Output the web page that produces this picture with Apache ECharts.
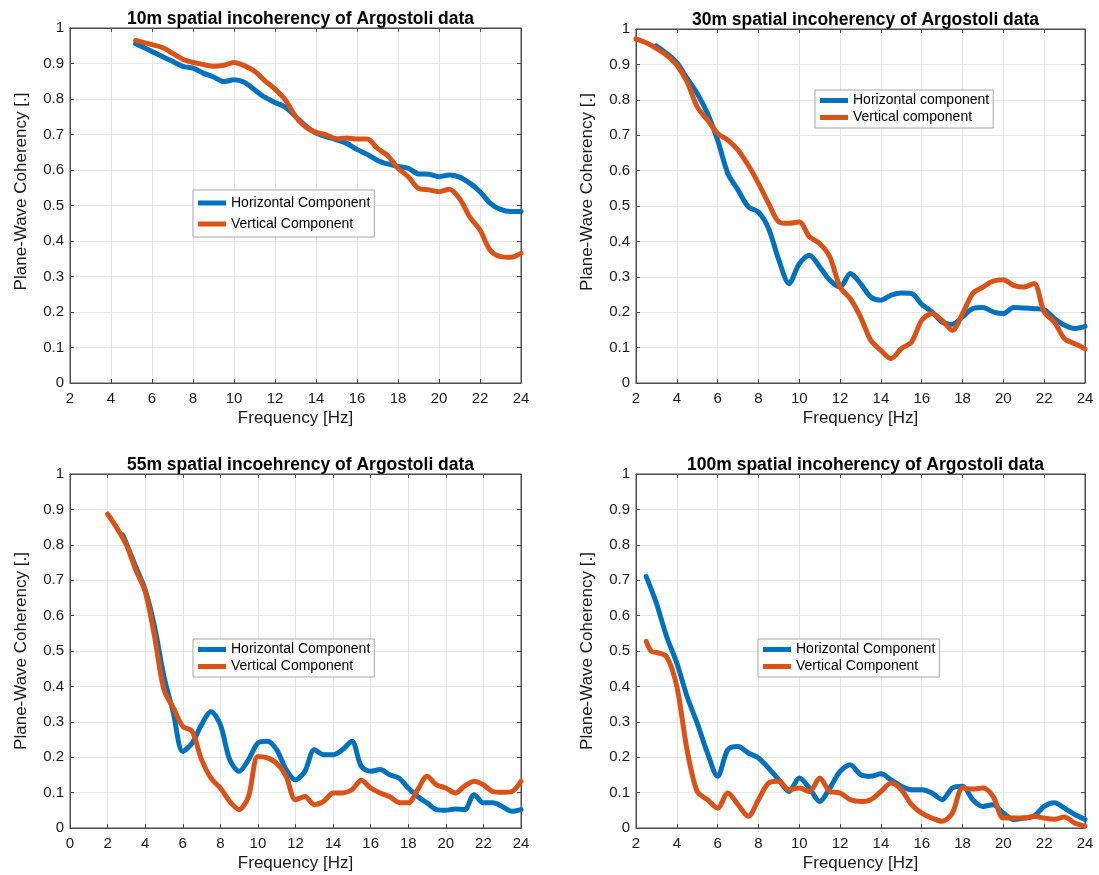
<!DOCTYPE html>
<html>
<head>
<meta charset="utf-8">
<script src="https://cdn.jsdelivr.net/npm/echarts@6/dist/echarts.min.js"></script>
<style>
html,body{margin:0;padding:0;background:#fff;}
#chart{width:1099px;height:875px;}
</style>
</head>
<body>
<div id="chart"></div>
<script>
// ---------- DATA ----------
const titles = [
  '10m spatial incoherency of Argostoli data',
  '30m spatial incoherency of Argostoli data',
  '55m spatial incoehrency of Argostoli data',
  '100m spatial incoherency of Argostoli data'
];
const legendNames = [
  ['Horizontal Component', 'Vertical Component'],
  ['Horizontal component', 'Vertical component'],
  ['Horizontal Component', 'Vertical Component'],
  ['Horizontal Component', 'Vertical Component']
];
const xMins = [2, 2, 0, 2];
const xMax = 24;
const xTickStep = 2;
const yTickStep = 0.1;

// Panel 1 (10 m)
const f10 = [5.2,6,6.5,7,7.5,8,8.5,9,9.5,10,10.5,11,11.5,12,12.5,13,13.5,14,14.5,15,15.5,16,16.5,17,17.5,18,18.5,19,19.5,20,20.5,21,21.5,22,22.5,23,23.5,24];
const h10 = [0.956,0.934,0.920,0.906,0.892,0.887,0.873,0.862,0.849,0.854,0.847,0.826,0.805,0.790,0.777,0.751,0.724,0.704,0.694,0.685,0.675,0.658,0.644,0.627,0.617,0.610,0.605,0.589,0.588,0.581,0.586,0.580,0.563,0.539,0.506,0.489,0.483,0.483];
const v10 = [0.965,0.953,0.945,0.929,0.912,0.903,0.897,0.892,0.895,0.903,0.894,0.878,0.852,0.828,0.798,0.751,0.721,0.706,0.699,0.688,0.690,0.687,0.687,0.661,0.640,0.605,0.581,0.548,0.544,0.539,0.546,0.520,0.468,0.431,0.374,0.356,0.354,0.365];

// Panel 2 (30 m)
const f30h = [3,3.5,4,4.5,5,5.5,6,6.5,7,7.5,8,8.5,9,9.5,10,10.5,11,11.5,12,12.5,13,13.5,14,14.5,15,15.5,16,16.5,17,17.5,18,18.5,19,19.5,20,20.5,21,21.5,22,22.5,23,23.5,24];
const h30 = [0.952,0.931,0.905,0.861,0.818,0.762,0.686,0.592,0.545,0.498,0.483,0.436,0.347,0.281,0.337,0.361,0.328,0.290,0.271,0.309,0.281,0.243,0.234,0.248,0.254,0.253,0.222,0.201,0.172,0.166,0.187,0.210,0.213,0.201,0.196,0.213,0.212,0.210,0.207,0.182,0.163,0.154,0.160];
const f30v = [2,2.5,3,3.5,4,4.5,5,5.5,6,6.5,7,7.5,8,8.5,9,9.5,10,10.5,11,11.5,12,12.5,13,13.5,14,14.5,15,15.5,16,16.5,17,17.5,18,18.5,19,19.5,20,20.5,21,21.5,22,22.5,23,23.5,24];
const v30 = [0.972,0.961,0.945,0.926,0.898,0.851,0.780,0.743,0.705,0.686,0.658,0.615,0.564,0.507,0.455,0.451,0.455,0.413,0.394,0.356,0.271,0.238,0.187,0.121,0.092,0.069,0.097,0.116,0.177,0.196,0.177,0.149,0.196,0.253,0.271,0.288,0.292,0.276,0.271,0.281,0.201,0.172,0.125,0.111,0.097];

// Panel 3 (55 m)
const f55h = [2.8,3,3.5,4,4.5,5,5.5,6,6.5,7,7.5,8,8.5,9,9.5,10,10.5,11,11.5,12,12.5,13,13.5,14,14.5,15,15.5,16,16.5,17,17.5,18,18.5,19,19.5,20,20.5,21,21.5,22,22.5,23,23.5,24];
const h55 = [0.828,0.804,0.738,0.673,0.569,0.428,0.325,0.216,0.240,0.292,0.329,0.292,0.193,0.160,0.193,0.240,0.245,0.221,0.165,0.136,0.160,0.221,0.207,0.207,0.221,0.245,0.174,0.160,0.165,0.151,0.141,0.113,0.089,0.071,0.052,0.050,0.054,0.052,0.094,0.071,0.071,0.061,0.047,0.052];
const f55v = [2,2.5,3,3.5,4,4.5,5,5.5,6,6.5,7,7.5,8,8.5,9,9.5,10,10.5,11,11.5,12,12.5,13,13.5,14,14.5,15,15.5,16,16.5,17,17.5,18,18.5,19,19.5,20,20.5,21,21.5,22,22.5,23,23.5,24];
const v55 = [0.887,0.847,0.800,0.729,0.668,0.541,0.390,0.339,0.287,0.273,0.193,0.141,0.113,0.075,0.052,0.089,0.202,0.198,0.183,0.146,0.080,0.089,0.066,0.075,0.099,0.099,0.108,0.135,0.113,0.099,0.089,0.072,0.071,0.108,0.146,0.122,0.113,0.099,0.118,0.132,0.122,0.103,0.101,0.103,0.132];

// Panel 4 (100 m)
const f100h = [2.5,3,3.5,4,4.5,5,5.5,6,6.5,7,7.5,8,8.5,9,9.5,10,10.5,11,11.5,12,12.5,13,13.5,14,14.5,15,15.5,16,16.5,17,17.5,18,18.5,19,19.5,20,20.5,21,21.5,22,22.5,23,23.5,24];
const h100 = [0.710,0.635,0.541,0.466,0.372,0.296,0.212,0.146,0.221,0.230,0.212,0.198,0.169,0.136,0.103,0.141,0.113,0.075,0.113,0.160,0.179,0.151,0.146,0.153,0.136,0.118,0.108,0.108,0.099,0.080,0.113,0.118,0.080,0.061,0.066,0.042,0.024,0.028,0.033,0.061,0.071,0.056,0.038,0.024];
const f100v = [2.5,2.75,3,3.5,4,4.5,5,5.5,6,6.5,7,7.5,8,8.5,9,9.5,10,10.5,11,11.5,12,12.5,13,13.5,14,14.5,15,15.5,16,16.5,17,17.5,18,18.5,19,19.5,20,20.5,21,21.5,22,22.5,23,23.5,24];
const v100 = [0.527,0.499,0.496,0.484,0.400,0.221,0.103,0.080,0.056,0.099,0.066,0.033,0.080,0.127,0.132,0.108,0.113,0.103,0.141,0.103,0.099,0.080,0.075,0.080,0.103,0.127,0.108,0.066,0.042,0.028,0.019,0.042,0.113,0.110,0.113,0.089,0.028,0.028,0.028,0.033,0.028,0.025,0.031,0.014,0.005];

const panelSeries = [
  [[f10, h10], [f10, v10]],
  [[f30h, h30], [f30v, v30]],
  [[f55h, h55], [f55v, v55]],
  [[f100h, h100], [f100v, v100]]
];

// ---------- LAYOUT / STYLE ----------
const FONT = '"Liberation Sans", Arial, Helvetica, sans-serif';
const BLUE = '#0072BD', ORANGE = '#D95319';
const grids = [
  {left: 70, top: 28, width: 451, height: 355},
  {left: 636, top: 29, width: 449, height: 354},
  {left: 70, top: 474, width: 451, height: 354},
  {left: 636, top: 474, width: 449, height: 354}
];
const yNamePad = [[0,0,0,28],[0,0,0,28],[0,0,0,0],[0,0,0,0]];
const legendPos = [
  {left: 193, top: 190, padding: [5, 4, 5, 5], itemGap: 5, lh: 16},
  {left: 815, top: 90, padding: [3, 4, 3, 5], itemGap: 2, lh: 15},
  {left: 193, top: 639, padding: [3, 4, 3, 5], itemGap: 2, lh: 15},
  {left: 758, top: 639, padding: [3, 4, 3, 5], itemGap: 2, lh: 15}
];

const chart = echarts.init(document.getElementById('chart'), null, {renderer: 'canvas'});

const axisLineStyle = {color: '#4d4d4d', width: 1};
const option = {
  animation: false,
  backgroundColor: '#fff',
  textStyle: {fontFamily: FONT},
  title: [], grid: [], xAxis: [], yAxis: [], legend: [], series: []
};

grids.forEach((g, i) => {
  option.grid.push(Object.assign({show: true, borderColor: '#4d4d4d', borderWidth: 1, backgroundColor: '#fff', containLabel: false}, g));
  option.title.push({
    text: titles[i],
    left: g.left + g.width / 2,
    textAlign: 'center',
    top: g.top - 23,
    textStyle: {fontFamily: FONT, fontSize: 17.5, fontWeight: 'bold', color: '#000'}
  });
  // bottom x
  option.xAxis.push({
    type: 'value', gridIndex: i, min: xMins[i], max: xMax, interval: xTickStep, position: 'bottom',
    name: 'Frequency [Hz]', nameLocation: 'middle', nameGap: 27,
    nameTextStyle: {fontFamily: FONT, fontSize: 17, color: '#1a1a1a'},
    axisLine: {show: true, onZero: false, lineStyle: axisLineStyle},
    axisTick: {show: true, inside: true, length: 4, lineStyle: axisLineStyle},
    axisLabel: {show: true, margin: 8, fontFamily: FONT, fontSize: 15, color: '#1a1a1a'},
    splitLine: {show: true, lineStyle: {color: '#e6e6e6', width: 1}}
  });
  // top x (box ticks)
  option.xAxis.push({
    type: 'value', gridIndex: i, min: xMins[i], max: xMax, interval: xTickStep, position: 'top',
    axisLine: {show: true, onZero: false, lineStyle: axisLineStyle},
    axisTick: {show: true, inside: true, length: 4, lineStyle: axisLineStyle},
    axisLabel: {show: false}, splitLine: {show: false}
  });
  // left y
  option.yAxis.push({
    type: 'value', gridIndex: i, min: 0, max: 1, interval: yTickStep, position: 'left',
    name: 'Plane-Wave Coherency [.]', nameLocation: 'middle', nameGap: 40,
    nameTextStyle: {fontFamily: FONT, fontSize: 17, color: '#1a1a1a', padding: yNamePad[i]},
    axisLine: {show: true, onZero: false, lineStyle: axisLineStyle},
    axisTick: {show: true, inside: true, length: 4, lineStyle: axisLineStyle},
    axisLabel: {show: true, margin: 6, fontFamily: FONT, fontSize: 15, color: '#1a1a1a'},
    splitLine: {show: true, lineStyle: {color: '#e6e6e6', width: 1}}
  });
  // right y (box ticks)
  option.yAxis.push({
    type: 'value', gridIndex: i, min: 0, max: 1, interval: yTickStep, position: 'right',
    axisLine: {show: true, onZero: false, lineStyle: axisLineStyle},
    axisTick: {show: true, inside: true, length: 4, lineStyle: axisLineStyle},
    axisLabel: {show: false}, splitLine: {show: false}
  });

  const lp = legendPos[i];
  option.legend.push({
    orient: 'vertical', left: lp.left, top: lp.top, padding: lp.padding, itemGap: lp.itemGap,
    itemWidth: 28, itemHeight: 5, icon: 'rect',
    backgroundColor: '#fff', borderColor: '#a6a6a6', borderWidth: 1, borderRadius: 0,
    selectedMode: false,
    textStyle: {fontFamily: FONT, fontSize: 14, color: '#000', lineHeight: lp.lh},
    data: legendNames[i]
  });

  const colors = [BLUE, ORANGE];
  panelSeries[i].forEach((s, k) => {
    const xs = s[0], ys = s[1];
    option.series.push({
      type: 'line', name: legendNames[i][k],
      xAxisIndex: i * 2, yAxisIndex: i * 2,
      data: xs.map((x, j) => [x, ys[j]]),
      showSymbol: false, symbol: 'none', smooth: 0.3,
      color: colors[k],
      lineStyle: {color: colors[k], width: 5, cap: 'round', join: 'round'},
      z: 3 + k
    });
  });
});

chart.setOption(option);
</script>
</body>
</html>
